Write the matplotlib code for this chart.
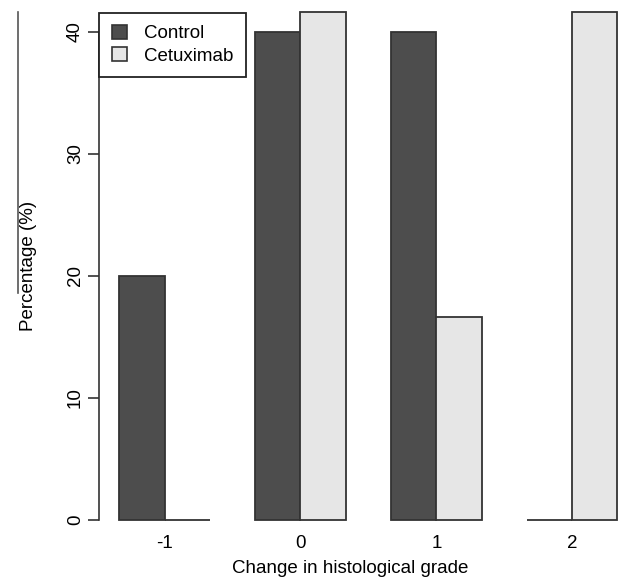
import matplotlib

matplotlib.use('Agg')

import matplotlib.pyplot as plt
import numpy as np
from matplotlib.lines import Line2D
from matplotlib.patches import Patch

plt.rcParams['font.family'] = ['Liberation Sans', 'DejaVu Sans']

grades = ['-1', '0', '1', '2']
control = [20, 40, 40, 0]
cetuximab = [0, 41.67, 16.67, 41.67]
series = ['Control', 'Cetuximab']
colors = ['#4d4d4d', '#e6e6e6']

W, H = 619, 577
fig = plt.figure(figsize=(W / 100, H / 100), dpi=100)

# plot region in pixels (R style barplot, image cropped on top and right)
left, right = 99.4, 637.4
top, bottom = 12.5, 539.5
ax = fig.add_axes([left / W, 1 - bottom / H, (right - left) / W, (bottom - top) / H])
ax.patch.set_visible(False)

# beside=TRUE layout: bar width 1, one bar gap between groups
ind = np.arange(len(grades)) * 3 + 1
ax.bar(ind, control, width=1, align='edge', color=colors[0], edgecolor='#333333',
       linewidth=1.3, clip_on=False)
ax.bar(ind + 1, cetuximab, width=1, align='edge', color=colors[1], edgecolor='#333333',
       linewidth=1.3, clip_on=False)

ax.set_xlim(0.56, 12.44)
ax.set_ylim(-1.6, 41.6)

for s in ['top', 'right', 'bottom']:
    ax.spines[s].set_visible(False)
ax.spines['left'].set_bounds(0, 40)
ax.spines['left'].set_color('#333333')
ax.spines['left'].set_linewidth(1.2)

ax.set_yticks([0, 10, 20, 30, 40])
ax.set_yticklabels(['0', '10', '20', '30', '40'], rotation=90, va='center', fontsize=13.5)
ax.tick_params(axis='y', length=8, width=1.2, color='#333333', pad=3)

ax.set_xticks(ind + 1)
ax.set_xticklabels(grades, fontsize=13.5)
ax.tick_params(axis='x', length=0, pad=-3.5)

ax.set_xlabel('Change in histological grade', fontsize=13.5)
ax.xaxis.set_label_coords(((350 - left) / (right - left)), -(573 - bottom) / (bottom - top),
                          transform=ax.transAxes)
ax.xaxis.label.set_va('baseline')
ax.set_ylabel('Percentage (%)', fontsize=13.5)
ax.yaxis.set_label_coords(-(left - 37) / (right - left), (bottom - 266) / (bottom - top))

handles = [Patch(facecolor=c, edgecolor='#333333', linewidth=1.2) for c in colors]
leg = ax.legend(handles, series, loc='upper left', bbox_to_anchor=(0, 1), fontsize=13.5,
                frameon=True, fancybox=False, borderaxespad=0, handlelength=0.8,
                handleheight=0.8, handletextpad=0.95, borderpad=0.65, labelspacing=0.25)
leg.get_frame().set_edgecolor('#222222')
leg.get_frame().set_linewidth(1.3)
leg.get_frame().set_alpha(1)

# stray vertical line at the left edge of the scan
fig.add_artist(Line2D([18 / W, 18 / W], [1 - 12 / H, 1 - 293 / H], color='#555555', linewidth=1.2))

plt.savefig('out.png', dpi=100)
